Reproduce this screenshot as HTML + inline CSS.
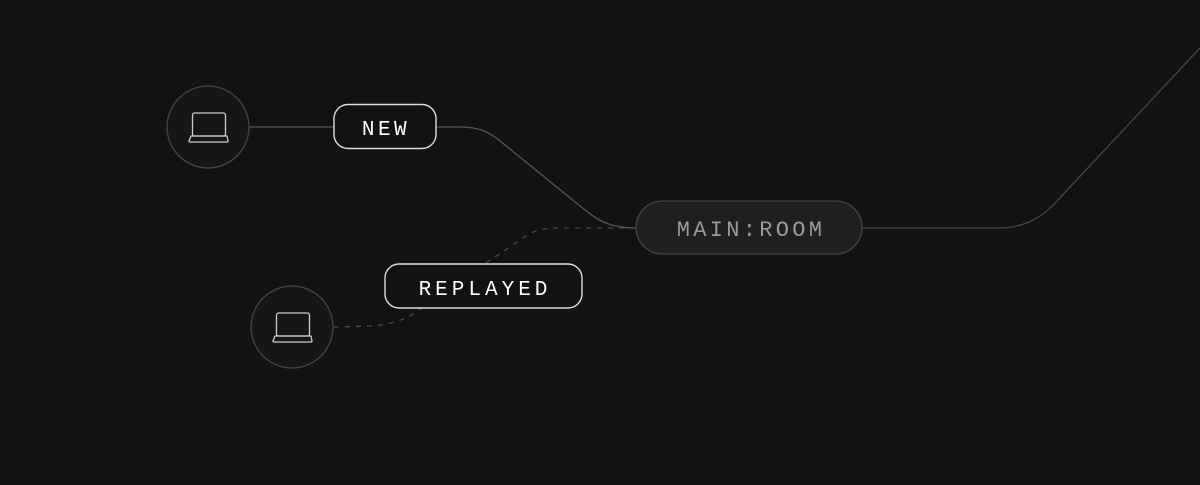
<!DOCTYPE html>
<html><head><style>
html,body{margin:0;padding:0;background:#121212;width:1200px;height:485px;overflow:hidden}
svg{display:block}
text{font-family:"Liberation Mono",monospace}
</style></head><body>
<svg width="1200" height="485" viewBox="0 0 1200 485">
<rect width="1200" height="485" fill="#121212"/>
<path d="M249 127 L334 127" stroke="#555" stroke-width="1.3" fill="none"/>
<path d="M436 127 L460 127 C480 127 490 132 505 145 L585 210 C600 222 612 228 636 228" stroke="#555" stroke-width="1.3" fill="none"/>
<path d="M862 228 L1000 228 C1020 228 1040 220 1056 202 L1200 48" stroke="#444" stroke-width="1.3" fill="none"/>
<path d="M334 327 L372 326 C395 324 410 318 425 305 M486 263 L520 240 C532 231 540 228 560 228 L636 228" stroke="#4a4a4a" stroke-width="1.3" fill="none" stroke-dasharray="5 6"/>
<circle cx="208" cy="127" r="41" fill="#161616" stroke="#444" stroke-width="1.3"/>
<circle cx="292" cy="327" r="41" fill="#161616" stroke="#444" stroke-width="1.3"/>
<g fill="none" stroke="#ccc" stroke-width="1.3" stroke-linejoin="round">
<rect x="192.5" y="113" width="33" height="23" rx="2"/>
<path d="M191 136 L227 136 L228 141 Q228 142 227 142 L190 142 Q189 142 189 141 Z"/>
<rect x="276.5" y="313" width="33" height="23" rx="2"/>
<path d="M275 336 L311 336 L312 341 Q312 342 311 342 L274 342 Q273 342 273 341 Z"/>
</g>
<rect x="334" y="104.5" width="102" height="44" rx="14" fill="#121212" stroke="#ddd" stroke-width="1.4"/>
<text x="386" y="135" text-anchor="middle" fill="#fff" font-size="21" letter-spacing="3.5">NEW</text>
<rect x="385" y="264" width="197" height="44" rx="14" fill="#121212" stroke="#ddd" stroke-width="1.4"/>
<text x="485" y="295" text-anchor="middle" fill="#fff" font-size="21" letter-spacing="4">REPLAYED</text>
<rect x="636" y="201" width="226" height="53" rx="26.5" fill="#1f1f1f" stroke="#444" stroke-width="1.3"/>
<text x="751" y="236" text-anchor="middle" fill="#9a9a9a" font-size="22" letter-spacing="3.3">MAIN:ROOM</text>
</svg>
</body></html>
